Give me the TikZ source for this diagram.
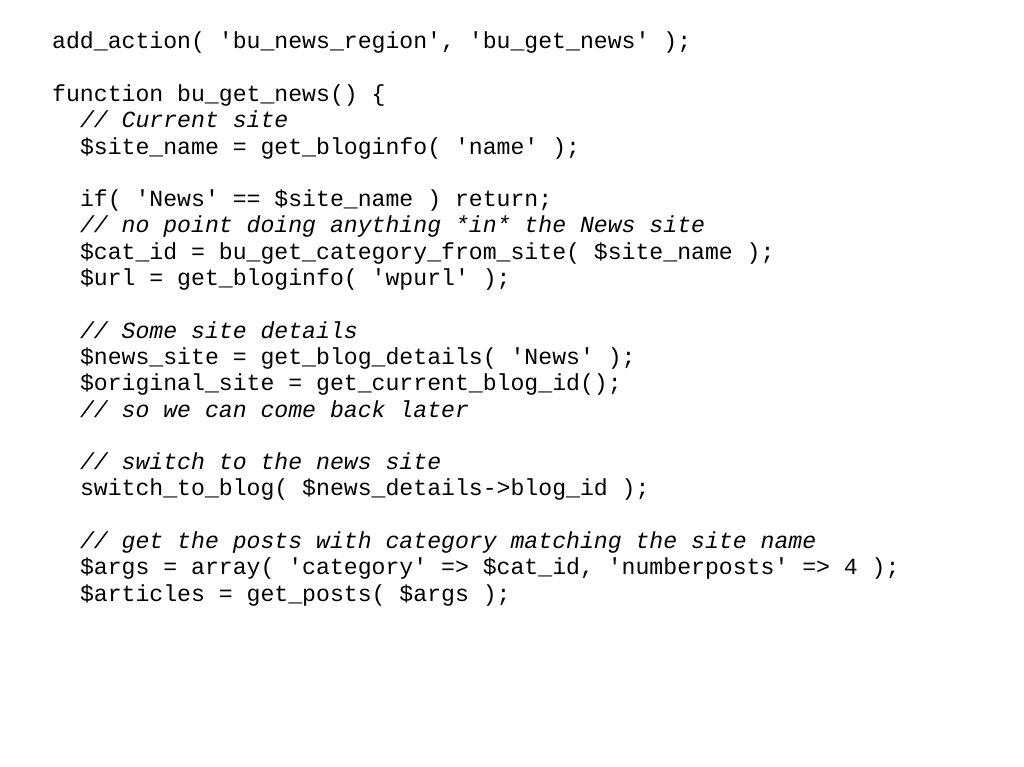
\documentclass[tikz,border=0pt]{standalone}
\usepackage{fontspec}
\setmonofont{Liberation Mono}
\newcommand{\codefont}{\ttfamily\fontsize{23.15}{26.3}\selectfont}
\tikzset{
  codeline/.style={anchor=base west, inner sep=0pt, font=\codefont},
  commentline/.style={codeline, font=\codefont\itshape}
}
\begin{document}
\begin{tikzpicture}[x=1pt, y=1pt]
\useasboundingbox (0,0) rectangle (1024,-767);
\node[codeline] (L_0) at (52,-49) {add\_action( 'bu\_news\_region', 'bu\_get\_news' );};
\node[codeline] (L_2) at (52,-101.6) {function bu\_get\_news() \{};
\node[commentline] (L_3) at (79.8,-127.9) {// Current site};
\node[codeline] (L_4) at (79.8,-154.2) {\$site\_name = get\_bloginfo( 'name' );};
\node[codeline] (L_6) at (79.8,-206.7) {if( 'News' == \$site\_name ) return;};
\node[commentline] (L_7) at (79.8,-233) {// no point doing anything *in* the News site};
\node[codeline] (L_8) at (79.8,-259.3) {\$cat\_id = bu\_get\_category\_from\_site( \$site\_name );};
\node[codeline] (L_9) at (79.8,-285.6) {\$url = get\_bloginfo( 'wpurl' );};
\node[commentline] (L_11) at (79.8,-338.2) {// Some site details};
\node[codeline] (L_12) at (79.8,-364.5) {\$news\_site = get\_blog\_details( 'News' );};
\node[codeline] (L_13) at (79.8,-390.8) {\$original\_site = get\_current\_blog\_id();};
\node[commentline] (L_14) at (79.8,-417.1) {// so we can come back later};
\node[commentline] (L_16) at (79.8,-469.6) {// switch to the news site};
\node[codeline] (L_17) at (79.8,-495.9) {switch\_to\_blog( \$news\_details->blog\_id );};
\node[commentline] (L_19) at (79.8,-548.5) {// get the posts with category matching the site name};
\node[codeline] (L_20) at (79.8,-574.8) {\$args = array( 'category' => \$cat\_id, 'numberposts' => 4 );};
\node[codeline] (L_21) at (79.8,-601.1) {\$articles = get\_posts( \$args );};
\end{tikzpicture}
\end{document}
